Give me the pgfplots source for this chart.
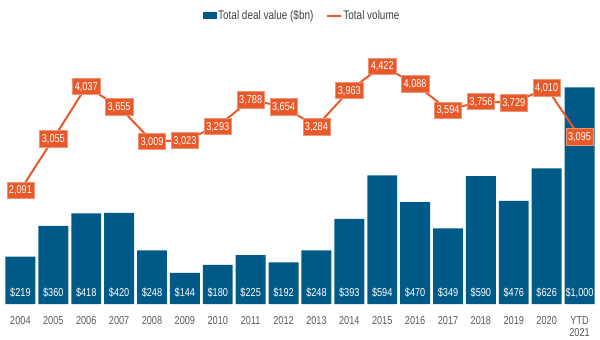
\documentclass[border=0pt]{standalone}
\usepackage{pgfplots}
\pgfplotsset{compat=1.18}
\usepackage{pgfplotstable}
\usepackage{fontspec}
\setmainfont[FakeStretch=0.8]{Liberation Sans}
\definecolor{dealblue}{HTML}{005A87}
\definecolor{volorange}{HTML}{E8592A}
\definecolor{ticktext}{HTML}{595959}
\definecolor{legtext}{HTML}{404040}
\pgfplotstableread{
x deal vol
0 219 2091
1 360 3055
2 418 4037
3 420 3655
4 248 3009
5 144 3023
6 180 3293
7 225 3788
8 192 3654
9 248 3284
10 393 3963
11 594 4422
12 470 4088
13 349 3594
14 590 3756
15 476 3729
16 626 4010
17 1000 3095
}\data
\pgfplotsset{
  /pgf/number format/.cd, 1000 sep={,}, assume math mode=true,
  /pgfplots/.cd,
  base/.style={at={(4bp,36bp)}, anchor=south west, scale only axis,
    width=592bp, height=244bp, xmin=-0.5, xmax=17.5, clip=false},
}
\begin{document}
\begin{tikzpicture}
\begin{axis}[base, ymin=0, ymax=1126,
  axis line style={draw=none}, tick style={draw=none}, major tick length=0pt,
  ytick=\empty,
  xtick={0,...,17},
  xticklabels={2004,2005,2006,2007,2008,2009,2010,2011,2012,2013,2014,2015,2016,2017,2018,2019,2020,{YTD\\2021}},
  xticklabel style={align=center, text=ticktext, font=\fontsize{11.5}{12.5}\selectfont, inner sep=0pt, anchor=north, yshift=-12bp},
  legend columns=-1,
  legend style={draw=none, fill=none, at={(0.503,1)}, anchor=center, yshift=44bp,
    font=\fontsize{12.5}{14}\selectfont, text=legtext,
    /tikz/every even column/.append style={column sep=12bp},
    nodes={inner xsep=1bp, inner ysep=1bp}},
]
\addplot[ybar, bar width=0.91, fill=dealblue, draw=none,
  legend image code/.code={\fill[dealblue] (0bp,-3.5bp) rectangle (14bp,3.5bp);}]
  table[x=x, y=deal]{\data};
\addlegendentry{Total deal value (\$bn)}
\addlegendimage{legend image code/.code={\draw[volorange, line width=2bp] (0bp,0bp) -- (14bp,0bp);}}
\addlegendentry{Total volume}
\addplot[draw=none, mark=none, forget plot, point meta=\thisrow{deal},
  nodes near coords={\$\pgfmathprintnumber{\pgfplotspointmeta}},
  every node near coord/.style={anchor=base, yshift=7.5bp, text=white, inner sep=0pt,
    font=\fontsize{11.5}{12}\selectfont}]
  table[x=x, y expr=0]{\data};
\end{axis}
\begin{axis}[base, ymin=-52, ymax=4535, hide axis]
\addplot[volorange, line width=2bp, mark=none,
  nodes near coords, point meta=y,
  every node near coord/.style={anchor=center, fill=volorange,
    draw=volorange!65!white, line width=0.5bp, text=white,
    inner xsep=2.2bp, inner ysep=0pt, text height=7.9bp, text depth=0bp,
    minimum height=16.5bp, font=\fontsize{11.5}{12}\selectfont}]
  table[x=x, y=vol]{\data};
\end{axis}
\useasboundingbox (0,0) rectangle (600bp,340bp);
\end{tikzpicture}
\end{document}
